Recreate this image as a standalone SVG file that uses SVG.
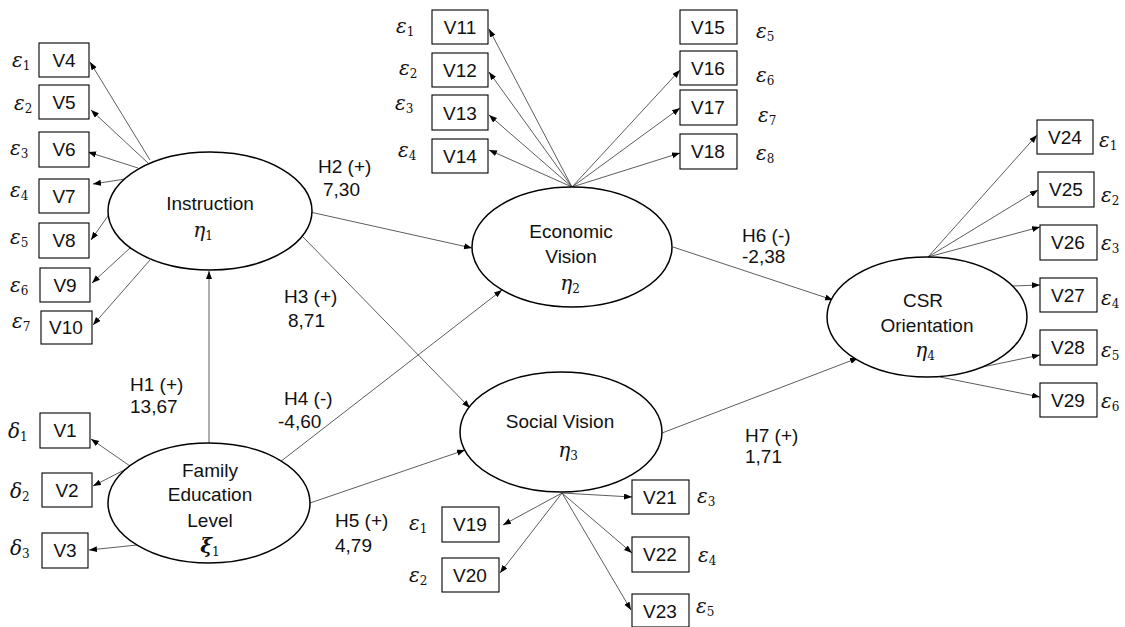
<svg xmlns="http://www.w3.org/2000/svg" width="1125" height="627" viewBox="0 0 1125 627">
<style>
.bg{fill:#fff}
.box{fill:#fff;stroke:#000;stroke-width:1.1}
.ell{fill:#fff;stroke:#000;stroke-width:1.5}
.t{font-family:"Liberation Sans",Arial,sans-serif;font-size:19px;fill:#111}
.tc{font-family:"Liberation Sans",Arial,sans-serif;font-size:19px;fill:#111;text-anchor:middle}
.g{font-family:"DejaVu Serif","Liberation Serif",serif;font-style:italic;font-size:20px;fill:#111}
.gc{font-family:"DejaVu Serif","Liberation Serif",serif;font-style:italic;font-size:20px;fill:#111;text-anchor:middle}
.s{font-style:normal;font-weight:normal;font-size:12px}
.b{font-weight:bold}
.ln{stroke:#333;stroke-width:0.8;fill:none;marker-end:url(#ah)}
</style>
<defs>
<marker id="ah" markerUnits="userSpaceOnUse" markerWidth="9" markerHeight="7" refX="8" refY="3" orient="auto">
<path d="M0,0 L8,3 L0,6 z" fill="#000"/>
</marker>
</defs>
<rect class="bg" x="0" y="0" width="1125" height="627"/>

<g id="connectors">
<line class="ln" x1="150" y1="160" x2="90" y2="62"/>
<line class="ln" x1="148" y1="163" x2="91" y2="110"/>
<line class="ln" x1="138" y1="168" x2="88" y2="152"/>
<line class="ln" x1="125" y1="179" x2="93" y2="184"/>
<line class="ln" x1="110" y1="213" x2="91" y2="240"/>
<line class="ln" x1="130" y1="248" x2="92" y2="283"/>
<line class="ln" x1="150" y1="260" x2="93" y2="325"/>
<line class="ln" x1="130" y1="466" x2="91" y2="439"/>
<line class="ln" x1="130" y1="467" x2="93" y2="486"/>
<line class="ln" x1="137" y1="545" x2="89" y2="550"/>
<line class="ln" x1="572" y1="187" x2="489" y2="29"/>
<line class="ln" x1="572" y1="187" x2="489" y2="72"/>
<line class="ln" x1="572" y1="187" x2="489" y2="115"/>
<line class="ln" x1="572" y1="187" x2="489" y2="150"/>
<line class="ln" x1="572" y1="187" x2="680" y2="70"/>
<line class="ln" x1="572" y1="187" x2="680" y2="108"/>
<line class="ln" x1="572" y1="187" x2="680" y2="153"/>
<line class="ln" x1="562" y1="493" x2="503" y2="525"/>
<line class="ln" x1="562" y1="493" x2="500" y2="573"/>
<line class="ln" x1="562" y1="493" x2="632" y2="497"/>
<line class="ln" x1="562" y1="493" x2="632" y2="553"/>
<line class="ln" x1="562" y1="493" x2="631" y2="610"/>
<line class="ln" x1="928" y1="257" x2="1037" y2="135"/>
<line class="ln" x1="928" y1="257" x2="1038" y2="190"/>
<line class="ln" x1="928" y1="257" x2="1040" y2="227"/>
<line class="ln" x1="1013" y1="286" x2="1040" y2="285"/>
<line class="ln" x1="973" y1="369" x2="1040" y2="355"/>
<line class="ln" x1="940" y1="377" x2="1040" y2="397"/>
<line class="ln" x1="209" y1="444" x2="209" y2="271"/>
<line class="ln" x1="310" y1="212" x2="472" y2="248"/>
<line class="ln" x1="303" y1="237" x2="470" y2="408"/>
<line class="ln" x1="280" y1="462" x2="502" y2="290"/>
<line class="ln" x1="310" y1="503" x2="465" y2="450"/>
<line class="ln" x1="673" y1="247" x2="833" y2="300"/>
<line class="ln" x1="662" y1="433" x2="858" y2="358"/>
</g>

<g id="path-labels">
<text class="t" x="130" y="391">H1 (+)</text><text class="t" x="130" y="413">13,67</text>
<text class="t" x="318" y="173">H2 (+)</text><text class="t" x="323" y="196">7,30</text>
<text class="t" x="284" y="303">H3 (+)</text><text class="t" x="288" y="327">8,71</text>
<text class="t" x="284" y="405">H4 (-)</text><text class="t" x="278" y="428">-4,60</text>
<text class="t" x="335" y="527">H5 (+)</text><text class="t" x="335" y="552">4,79</text>
<text class="t" x="742" y="242">H6 (-)</text><text class="t" x="742" y="263">-2,38</text>
<text class="t" x="745" y="442">H7 (+)</text><text class="t" x="745" y="463">1,71</text>
</g>

<g id="instruction">
<ellipse class="ell" cx="210" cy="211" rx="102" ry="59"/>
<text class="tc" x="210" y="210">Instruction</text>
<text class="gc" x="203" y="237">η<tspan class="s" dy="3">1</tspan></text>
</g>
<g id="family-education-level">
<ellipse class="ell" cx="209" cy="503" rx="101" ry="60"/>
<text class="tc" x="210" y="477">Family</text>
<text class="tc" x="210" y="501">Education</text>
<text class="tc" x="210" y="527">Level</text>
<text class="gc b" x="210" y="553">ξ<tspan class="s" dy="3">1</tspan></text>
</g>
<g id="economic-vision">
<ellipse class="ell" cx="572" cy="247" rx="100" ry="60"/>
<text class="tc" x="571" y="238">Economic</text>
<text class="tc" x="571" y="263">Vision</text>
<text class="gc" x="570" y="290">η<tspan class="s" dy="3">2</tspan></text>
</g>
<g id="social-vision">
<ellipse class="ell" cx="561" cy="432" rx="101" ry="60"/>
<text class="tc" x="560" y="428">Social Vision</text>
<text class="gc" x="568" y="457">η<tspan class="s" dy="3">3</tspan></text>
</g>
<g id="csr-orientation">
<ellipse class="ell" cx="927" cy="317" rx="100" ry="60"/>
<text class="tc" x="923" y="307">CSR</text>
<text class="tc" x="927" y="332">Orientation</text>
<text class="gc" x="925" y="357">η<tspan class="s" dy="3">4</tspan></text>
</g>

<g id="V4"><rect class="box" x="39" y="43" width="50" height="34"/><text class="tc" x="64" y="67">V4</text><text class="g" x="12" y="67">ε<tspan class="s" dy="3">1</tspan></text></g>
<g id="V5"><rect class="box" x="39" y="85" width="50" height="34"/><text class="tc" x="64" y="109">V5</text><text class="g" x="14" y="110">ε<tspan class="s" dy="3">2</tspan></text></g>
<g id="V6"><rect class="box" x="39" y="132" width="50" height="35"/><text class="tc" x="64" y="156">V6</text><text class="g" x="10" y="155">ε<tspan class="s" dy="3">3</tspan></text></g>
<g id="V7"><rect class="box" x="39" y="179" width="50" height="34"/><text class="tc" x="64" y="203">V7</text><text class="g" x="10" y="197">ε<tspan class="s" dy="3">4</tspan></text></g>
<g id="V8"><rect class="box" x="39" y="223" width="50" height="35"/><text class="tc" x="64" y="247">V8</text><text class="g" x="10" y="244">ε<tspan class="s" dy="3">5</tspan></text></g>
<g id="V9"><rect class="box" x="40" y="268" width="50" height="34"/><text class="tc" x="65" y="292">V9</text><text class="g" x="10" y="292">ε<tspan class="s" dy="3">6</tspan></text></g>
<g id="V10"><rect class="box" x="41" y="311" width="51" height="33"/><text class="tc" x="66" y="334">V10</text><text class="g" x="12" y="328">ε<tspan class="s" dy="3">7</tspan></text></g>

<g id="V1"><rect class="box" x="40" y="413" width="50" height="35"/><text class="tc" x="65" y="437">V1</text><text class="g" x="8" y="438">δ<tspan class="s" dy="3">1</tspan></text></g>
<g id="V2"><rect class="box" x="42" y="473" width="50" height="34"/><text class="tc" x="67" y="497">V2</text><text class="g" x="10" y="498">δ<tspan class="s" dy="3">2</tspan></text></g>
<g id="V3"><rect class="box" x="42" y="533" width="46" height="35"/><text class="tc" x="65" y="557">V3</text><text class="g" x="10" y="555">δ<tspan class="s" dy="3">3</tspan></text></g>

<g id="V11"><rect class="box" x="432" y="10" width="56" height="34"/><text class="tc" x="460" y="34">V11</text><text class="g" x="396" y="33">ε<tspan class="s" dy="3">1</tspan></text></g>
<g id="V12"><rect class="box" x="432" y="53" width="56" height="34"/><text class="tc" x="460" y="77">V12</text><text class="g" x="399" y="75">ε<tspan class="s" dy="3">2</tspan></text></g>
<g id="V13"><rect class="box" x="432" y="95" width="56" height="35"/><text class="tc" x="460" y="120">V13</text><text class="g" x="395" y="110">ε<tspan class="s" dy="3">3</tspan></text></g>
<g id="V14"><rect class="box" x="432" y="139" width="56" height="34"/><text class="tc" x="460" y="163">V14</text><text class="g" x="398" y="157">ε<tspan class="s" dy="3">4</tspan></text></g>
<g id="V15"><rect class="box" x="680" y="10" width="57" height="34"/><text class="tc" x="708" y="34">V15</text><text class="g" x="756" y="38">ε<tspan class="s" dy="3">5</tspan></text></g>
<g id="V16"><rect class="box" x="680" y="51" width="57" height="34"/><text class="tc" x="708" y="75">V16</text><text class="g" x="756" y="82">ε<tspan class="s" dy="3">6</tspan></text></g>
<g id="V17"><rect class="box" x="680" y="90" width="57" height="35"/><text class="tc" x="708" y="114">V17</text><text class="g" x="758" y="122">ε<tspan class="s" dy="3">7</tspan></text></g>
<g id="V18"><rect class="box" x="680" y="134" width="57" height="35"/><text class="tc" x="708" y="158">V18</text><text class="g" x="756" y="160">ε<tspan class="s" dy="3">8</tspan></text></g>

<g id="V19"><rect class="box" x="442" y="507" width="57" height="35"/><text class="tc" x="470" y="531">V19</text><text class="g" x="409" y="530">ε<tspan class="s" dy="3">1</tspan></text></g>
<g id="V20"><rect class="box" x="442" y="558" width="57" height="34"/><text class="tc" x="470" y="582">V20</text><text class="g" x="409" y="582">ε<tspan class="s" dy="3">2</tspan></text></g>
<g id="V21"><rect class="box" x="632" y="480" width="57" height="34"/><text class="tc" x="660" y="504">V21</text><text class="g" x="697" y="503">ε<tspan class="s" dy="3">3</tspan></text></g>
<g id="V22"><rect class="box" x="632" y="537" width="57" height="35"/><text class="tc" x="660" y="561">V22</text><text class="g" x="698" y="562">ε<tspan class="s" dy="3">4</tspan></text></g>
<g id="V23"><rect class="box" x="632" y="594" width="57" height="33"/><text class="tc" x="660" y="618">V23</text><text class="g" x="696" y="613">ε<tspan class="s" dy="3">5</tspan></text></g>

<g id="V24"><rect class="box" x="1037" y="120" width="56" height="34"/><text class="tc" x="1065" y="144">V24</text><text class="g" x="1099" y="147">ε<tspan class="s" dy="3">1</tspan></text></g>
<g id="V25"><rect class="box" x="1038" y="172" width="56" height="35"/><text class="tc" x="1066" y="196">V25</text><text class="g" x="1101" y="202">ε<tspan class="s" dy="3">2</tspan></text></g>
<g id="V26"><rect class="box" x="1040" y="225" width="57" height="35"/><text class="tc" x="1068" y="249">V26</text><text class="g" x="1101" y="250">ε<tspan class="s" dy="3">3</tspan></text></g>
<g id="V27"><rect class="box" x="1040" y="278" width="57" height="34"/><text class="tc" x="1068" y="302">V27</text><text class="g" x="1101" y="305">ε<tspan class="s" dy="3">4</tspan></text></g>
<g id="V28"><rect class="box" x="1040" y="330" width="57" height="35"/><text class="tc" x="1068" y="354">V28</text><text class="g" x="1101" y="357">ε<tspan class="s" dy="3">5</tspan></text></g>
<g id="V29"><rect class="box" x="1040" y="383" width="57" height="34"/><text class="tc" x="1068" y="407">V29</text><text class="g" x="1101" y="408">ε<tspan class="s" dy="3">6</tspan></text></g>
</svg>
